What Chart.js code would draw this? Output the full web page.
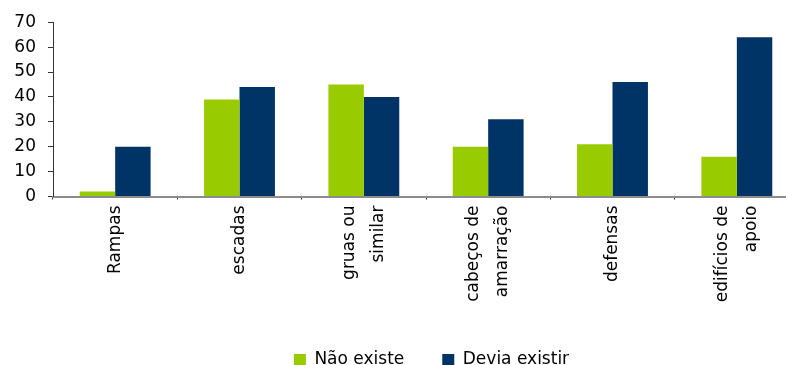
<!DOCTYPE html>
<html>
<head>
<meta charset="utf-8">
<script src="https://cdn.jsdelivr.net/npm/chart.js@4/dist/chart.umd.min.js"></script>
<style>
  html, body { margin: 0; padding: 0; background: #fff; overflow: hidden; }
  #wrap { width: 800px; height: 380px; }
</style>
</head>
<body>
<div id="wrap"><canvas id="chart" width="800" height="380"></canvas></div>
<script>
// Equipamentos: existência actual vs. necessidade
const categories = [
  'Rampas',
  'escadas',
  ['gruas ou', 'similar'],
  ['cabeços de', 'amarração'],
  'defensas',
  ['edifícios de', 'apoio']
];
const naoExiste = [2, 39, 45, 20, 21, 16];
const deviaExistir = [20, 44, 40, 31, 46, 64];
const yTicks = [0, 10, 20, 30, 40, 50, 60, 70];

const FONT = "'DejaVu Sans', sans-serif";
const LABEL_SIZE = 17;
const LABEL_LINE = 1.7;

// Category axis whose multi-line rotated labels are centred on their tick
class CenteredCategoryScale extends Chart.CategoryScale {
  _computeLabelItems(chartArea) {
    const items = super._computeLabelItems(chartArea);
    const lh = LABEL_SIZE * LABEL_LINE;
    items.forEach(it => {
      const n = Array.isArray(it.label) ? it.label.length : 1;
      it.options.translation[0] -= (n - 1) * lh / 2;
    });
    return items;
  }
}
CenteredCategoryScale.id = 'centeredCategory';
CenteredCategoryScale.defaults = Chart.CategoryScale.defaults;
Chart.register(CenteredCategoryScale);

// Moves the legend after layout
const legendShift = {
  id: 'legendShift',
  afterLayout(chart, args, opts) {
    const lg = chart.legend;
    if (!lg) return;
    lg.left += opts.dx; lg.right += opts.dx;
    lg.top += opts.dy; lg.bottom += opts.dy;
  }
};

new Chart(document.getElementById('chart'), {
  type: 'bar',
  data: {
    labels: categories,
    datasets: [
      { label: 'Não existe', data: naoExiste, backgroundColor: '#99CC00' },
      { label: 'Devia existir', data: deviaExistir, backgroundColor: '#003366' }
    ]
  },
  options: {
    responsive: false,
    animation: false,
    events: [],
    layout: { padding: { left: 14, top: 14, right: 1, bottom: 5.5 } },
    datasets: { bar: { categoryPercentage: 0.57, barPercentage: 1.0 } },
    scales: {
      x: {
        type: 'centeredCategory',
        afterFit(scale) { scale.paddingLeft = 0; scale.paddingRight = 0; scale.height = 113; },
        grid: { display: true, drawOnChartArea: false, offset: true, tickLength: 3, color: '#333', lineWidth: 1 },
        border: { display: true, color: '#8c8c8c', width: 2 },
        ticks: {
          autoSkip: false, minRotation: 90, maxRotation: 90, padding: 6,
          color: '#000', font: { family: FONT, size: LABEL_SIZE, lineHeight: LABEL_LINE }
        }
      },
      y: {
        min: 0, max: 70,
        afterBuildTicks(axis) { axis.ticks = yTicks.map(v => ({ value: v })); },
        afterFit(scale) { scale.width = 39; },
        grid: { display: true, drawOnChartArea: false, tickLength: 5, color: '#333' },
        border: { display: true, color: '#333', width: 1 },
        ticks: { padding: 12, color: '#000', font: { family: FONT, size: 17 } }
      }
    },
    plugins: {
      legend: {
        position: 'bottom',
        labels: { boxWidth: 12, boxHeight: 12, padding: 38, color: '#000', font: { family: FONT, size: 17 } }
      },
      legendShift: { dx: 25, dy: 4 },
      tooltip: { enabled: false }
    }
  },
  plugins: [legendShift]
});
</script>
</body>
</html>
